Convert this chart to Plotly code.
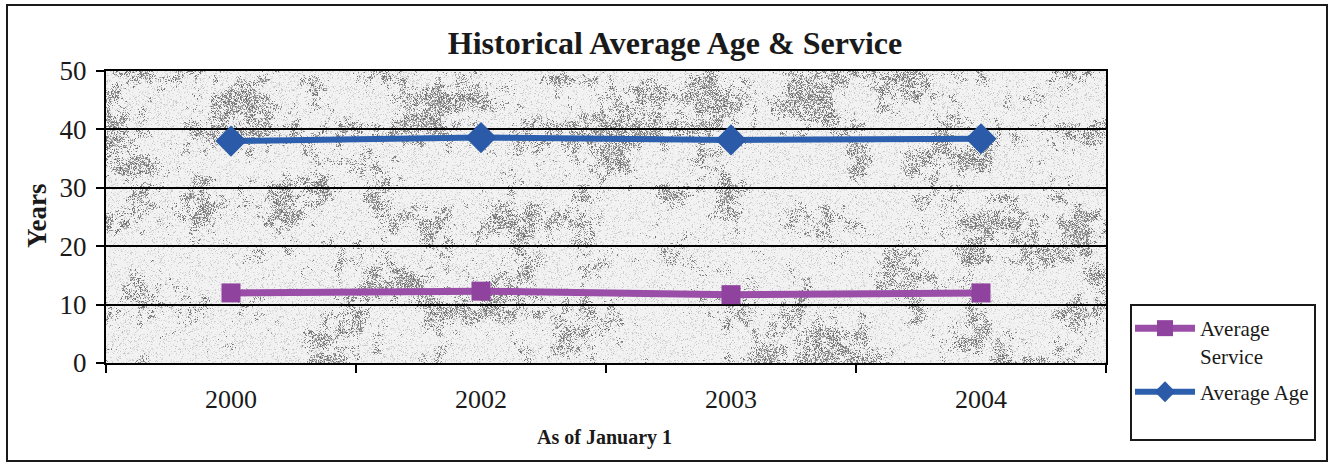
import base64
import struct
import zlib

import numpy as np
import plotly.graph_objects as go

# Chart data
years = ["2000", "2002", "2003", "2004"]
avg_service = [12.0, 12.3, 11.7, 12.0]
avg_age = [38.0, 38.6, 38.2, 38.4]
y_ticks = [0, 10, 20, 30, 40, 50]

FONT = "Liberation Serif"
W, H = 1332, 465
M_L, M_R, M_T, M_B = 106, 226, 71, 102
PW, PH = W - M_L - M_R, H - M_T - M_B


def px_x(px):
    """Pixel column -> paper x."""
    return (px - M_L) / PW


def px_y(py):
    """Pixel row -> paper y."""
    return (H - M_B - py) / PH


# ---- granite-like texture for the plot area -------------------------------
def hash2(i, j, seed):
    v = np.sin(i * 12.9898 + j * 78.233 + seed * 37.719) * 43758.5453
    return v - np.floor(v)


def value_noise(h, w, cell, seed):
    gy, gx = h // cell + 2, w // cell + 2
    J, I = np.meshgrid(np.arange(gx), np.arange(gy))
    g = hash2(I.astype(float), J.astype(float), seed)
    ys, xs = np.arange(h) / cell, np.arange(w) / cell
    y0, x0 = np.floor(ys).astype(int), np.floor(xs).astype(int)
    fy, fx = ys - y0, xs - x0
    fy, fx = fy * fy * (3 - 2 * fy), fx * fx * (3 - 2 * fx)
    a = g[y0][:, x0]
    b = g[y0][:, x0 + 1]
    c = g[y0 + 1][:, x0]
    d = g[y0 + 1][:, x0 + 1]
    top = a + (b - a) * fx[None, :]
    bot = c + (d - c) * fx[None, :]
    return top + (bot - top) * fy[:, None]


def granite(h, w):
    blob = (0.45 * value_noise(h, w, 30, 1)
            + 0.35 * value_noise(h, w, 9, 2)
            + 0.20 * value_noise(h, w, 3, 4))
    R, C = np.meshgrid(np.arange(h, dtype=float), np.arange(w, dtype=float), indexing="ij")
    # faint speckle everywhere
    base = 242 - 45 * (hash2(R, C, 7.0) < 0.22) * hash2(R, C, 8.0)
    # darker clustered grain
    density = np.clip((blob - 0.50) * 2.6, 0.0, 0.6)
    dots = hash2(R, C, 3.0) < density
    shade = 105 + 80 * hash2(R, C, 5.0)
    img = np.where(dots, shade, base)
    return img.astype(np.uint8)


def png_uri(arr):
    h, w = arr.shape
    raw = b"".join(b"\x00" + arr[r].tobytes() for r in range(h))

    def chunk(tag, data):
        return (struct.pack(">I", len(data)) + tag + data
                + struct.pack(">I", zlib.crc32(tag + data) & 0xFFFFFFFF))

    png = (b"\x89PNG\r\n\x1a\n"
           + chunk(b"IHDR", struct.pack(">IIBBBBB", w, h, 8, 0, 0, 0, 0))
           + chunk(b"IDAT", zlib.compress(raw, 9))
           + chunk(b"IEND", b""))
    return "data:image/png;base64," + base64.b64encode(png).decode()


texture = png_uri(granite(PH, PW))

# ---- figure ---------------------------------------------------------------
fig = go.Figure()

fig.add_trace(go.Scatter(
    x=years, y=avg_service, name="Average<br>Service",
    mode="lines+markers", legendgroup="svc",
    line=dict(color="#9a4ea8", width=7),
    marker=dict(symbol="square", size=19, color="#8f429e"),
))
fig.add_trace(go.Scatter(
    x=years, y=avg_age, name="Average Age",
    mode="lines+markers", legendgroup="age",
    line=dict(color="#2c5fae", width=6),
    marker=dict(symbol="diamond", size=24, color="#2a5aa8"),
))

fig.update_layout(
    width=W, height=H,
    margin=dict(l=M_L, r=M_R, t=M_T, b=M_B, pad=0),
    paper_bgcolor="white",
    plot_bgcolor="white",
    font=dict(family=FONT, color="#1a1a1a"),
    title=dict(
        text="Historical Average Age & Service",
        font=dict(family=FONT, size=32, weight="bold", color="#1a1a1a"),
        x=675 / W, xref="container", xanchor="center",
        y=1 - 43 / H, yref="container", yanchor="middle",
    ),
    showlegend=True,
    legend=dict(
        x=px_x(1130), y=px_y(308), xanchor="left", yanchor="top",
        font=dict(family=FONT, size=21, color="#1a1a1a"),
        bgcolor="rgba(0,0,0,0)", borderwidth=0,
        itemwidth=60, valign="top",
        traceorder="grouped", tracegroupgap=6,
    ),
    images=[dict(
        source=texture, xref="paper", yref="paper",
        x=0, y=1, sizex=1, sizey=1, sizing="stretch",
        xanchor="left", yanchor="top", layer="below",
    )],
)

fig.update_xaxes(
    type="category", range=[-0.5, 3.5],
    showgrid=False, zeroline=False,
    showline=True, linecolor="black", linewidth=2, mirror=True,
    ticks="outside", tickson="boundaries", ticklen=8, tickwidth=1.5, tickcolor="black",
    tickfont=dict(family=FONT, size=26, color="#1a1a1a"),
    ticklabelstandoff=12,
)
fig.update_yaxes(
    range=[0, 50], tickvals=y_ticks,
    showgrid=True, gridcolor="black", gridwidth=1.5,
    zeroline=False,
    showline=True, linecolor="black", linewidth=2, mirror=True,
    ticks="outside", ticklen=8, tickwidth=1.5, tickcolor="black",
    tickfont=dict(family=FONT, size=27, color="#1a1a1a"),
    ticklabelstandoff=4,
)

# Axis titles
fig.add_annotation(
    text="Years", textangle=-90, showarrow=False,
    xref="paper", yref="paper", x=px_x(37), y=px_y(216),
    xanchor="center", yanchor="middle",
    font=dict(family=FONT, size=27, weight="bold", color="#1a1a1a"),
)
fig.add_annotation(
    text="As of January 1", showarrow=False,
    xref="paper", yref="paper", x=px_x(604), y=px_y(437),
    xanchor="center", yanchor="middle",
    font=dict(family=FONT, size=20, weight="bold", color="#1a1a1a"),
)

# Chart frame and legend frame
fig.add_shape(
    type="rect", xref="paper", yref="paper",
    x0=px_x(7), x1=px_x(1327), y0=px_y(461), y1=px_y(5),
    line=dict(color="#1a1a1a", width=2), fillcolor="rgba(0,0,0,0)",
)
fig.add_shape(
    type="rect", xref="paper", yref="paper",
    x0=px_x(1131), x1=px_x(1315), y0=px_y(440), y1=px_y(305),
    line=dict(color="#1a1a1a", width=2), fillcolor="rgba(0,0,0,0)",
)

fig.write_html("out.html")
